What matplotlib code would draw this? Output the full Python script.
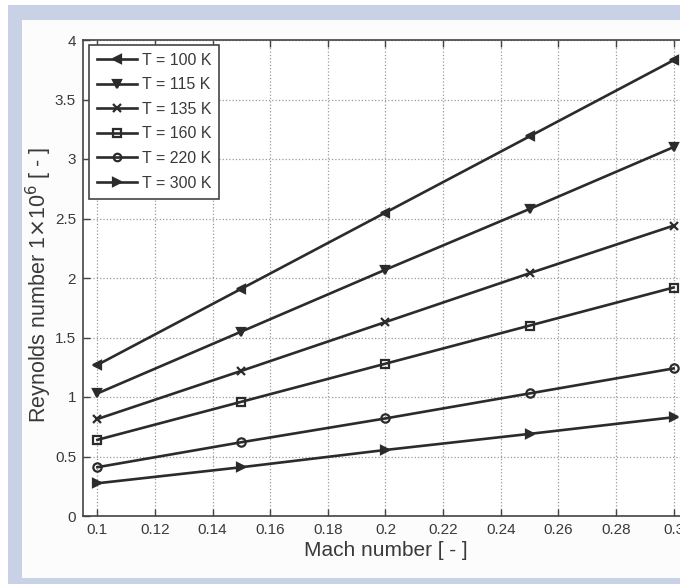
import matplotlib
matplotlib.use("Agg")
import matplotlib.pyplot as plt
from matplotlib.patches import Rectangle

plt.rcParams['font.family'] = ['Liberation Sans', 'DejaVu Sans']

# Mach numbers and Reynolds numbers (x 1e6) for each temperature
mach = [0.1, 0.15, 0.2, 0.25, 0.3]
re_100 = [1.27, 1.91, 2.55, 3.19, 3.83]
re_115 = [1.03, 1.55, 2.07, 2.58, 3.10]
re_135 = [0.815, 1.22, 1.63, 2.04, 2.44]
re_160 = [0.64, 0.96, 1.28, 1.60, 1.92]
re_220 = [0.41, 0.62, 0.82, 1.03, 1.24]
re_300 = [0.275, 0.41, 0.555, 0.69, 0.83]

labels = ["T = 100 K", "T = 115 K", "T = 135 K", "T = 160 K", "T = 220 K", "T = 300 K"]
series = [re_100, re_115, re_135, re_160, re_220, re_300]
markers = ["<", "v", "x", "s", "o", ">"]

xticks = [0.1, 0.12, 0.14, 0.16, 0.18, 0.2, 0.22, 0.24, 0.26, 0.28, 0.3]
xticklabels = ["0.1", "0.12", "0.14", "0.16", "0.18", "0.2", "0.22", "0.24", "0.26", "0.28", "0.3"]
yticks = [0, 0.5, 1, 1.5, 2, 2.5, 3, 3.5, 4]
yticklabels = ["0", "0.5", "1", "1.5", "2", "2.5", "3", "3.5", "4"]

W, H = 680, 584
fig = plt.figure(figsize=(W / 100, H / 100), dpi=100, facecolor="white")

# scanned-page frame: blue-grey band round the white panel (drawn behind the axes)
band = "#c9d1e7"
frame = [
    ((8 / W, 0), 14 / W, 1 - 5 / H, band),
    ((8 / W, 1 - 20 / H), 1, 15 / H, band),
    ((8 / W, 0), 1, 6 / H, band),
    ((22 / W, 6 / H), 1, 1 - 26 / H, "#fcfcfc"),
]
for xy, w, h, c in frame:
    fig.patches.append(Rectangle(xy, w, h, transform=fig.transFigure,
                                 facecolor=c, edgecolor="none", zorder=-10))

ax = fig.add_axes([83 / W, 1 - 516 / H, 605 / W, 476 / H])
ax.set_facecolor("white")

dark = "#2b2b2b"
for y, m, lab in zip(series, markers, labels):
    ax.plot(mach, y, color=dark, lw=1.9, marker=m, ms=6, mew=1.6,
            mfc="none" if m in ("s", "o") else dark, mec=dark, label=lab)

ax.set_xlim(0.095, 0.305)
ax.set_ylim(0, 4)
ax.set_xticks(xticks)
ax.set_xticklabels(xticklabels)
ax.set_yticks(yticks)
ax.set_yticklabels(yticklabels)
ax.tick_params(direction="in", top=True, right=True, length=5, width=1,
               colors="#444444", labelcolor="#3a3a3a", labelsize=11, pad=5)
ax.grid(True, color="#9a9a9a", ls=":", lw=0.9)
for s in ax.spines.values():
    s.set_color("#444444")
    s.set_linewidth(1.2)

ax.set_xlabel("Mach number [ - ]", fontsize=15, color="#3a3a3a", labelpad=3)
ax.set_ylabel(r"Reynolds number 1$\times$10$^6$ [ - ]", fontsize=15.5, color="#3a3a3a")
ax.yaxis.set_label_coords(-0.048, 0.485)

leg = ax.legend(loc="upper left", bbox_to_anchor=(0.01, 0.99), borderaxespad=0,
                fontsize=11.5, handlelength=2.5, handletextpad=0.3, borderpad=0.5,
                labelspacing=0.6, fancybox=False, framealpha=1,
                edgecolor="#444444", markerscale=0.9)
leg.get_frame().set_linewidth(1.2)
for t in leg.get_texts():
    t.set_color("#3a3a3a")

fig.savefig("out.png", dpi=100, facecolor=fig.get_facecolor())
